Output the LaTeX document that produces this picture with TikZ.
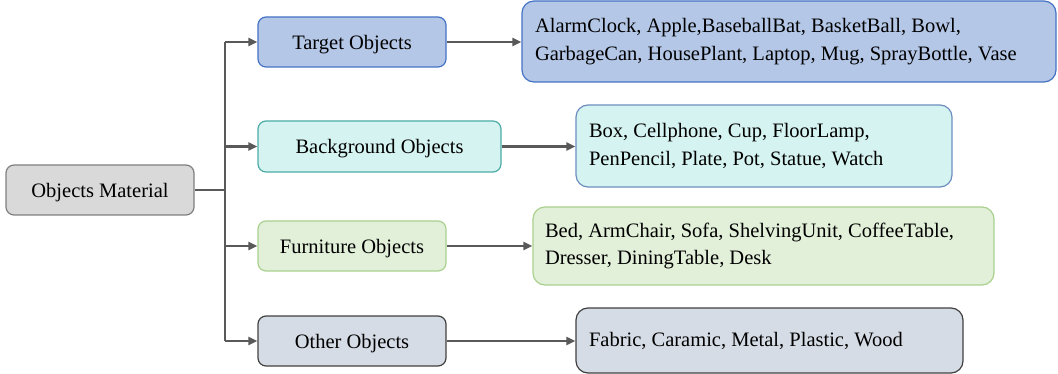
\documentclass[tikz,border=0pt]{standalone}
\usepackage{fontspec}
\setmainfont{Liberation Serif}
\usetikzlibrary{arrows.meta}
\definecolor{rootfill}{HTML}{D9D9D9}
\definecolor{rootdraw}{HTML}{7F7F7F}
\definecolor{tgtfill}{HTML}{B4C7E7}
\definecolor{tgtdraw}{HTML}{4472C4}
\definecolor{bgfill}{HTML}{D5F3F0}
\definecolor{bgdraw}{HTML}{4BACA6}
\definecolor{bglistdraw}{HTML}{6C8EBF}
\definecolor{furfill}{HTML}{E2F0D9}
\definecolor{furdraw}{HTML}{A9D18E}
\definecolor{othfill}{HTML}{D6DCE5}
\definecolor{othdraw}{HTML}{404040}
\definecolor{linkcol}{HTML}{595959}
\tikzset{
  box/.style={rounded corners=8pt, line width=1.2pt, inner sep=0pt, align=center,
    text depth=0pt, font=\fontsize{20.5}{27}\selectfont},
  listbox/.style={rounded corners=12pt, line width=1.2pt, inner sep=0pt,
    font=\fontsize{20.5}{27.5}\selectfont},
  link/.style={draw=linkcol, line width=2.6pt, -{Triangle[length=9pt,width=8pt]}},
  trunk/.style={draw=linkcol, line width=2.6pt},
}
\newcommand{\listtext}[2]{\raisebox{-2pt}{\parbox[c]{#1pt}{\raggedright #2}}}
\begin{document}
\begin{tikzpicture}[x=1pt,y=-1pt]
\useasboundingbox (0,0) rectangle (1058,374);
% root
\node[box, fill=rootfill, draw=rootdraw, minimum width=188pt, minimum height=50pt] (root) at (100,190) {Objects Material};
% categories
\node[box, fill=tgtfill, draw=tgtdraw, minimum width=188pt, minimum height=50pt] (tgt) at (352,42) {Target Objects};
\node[box, fill=bgfill, draw=bgdraw, minimum width=243pt, minimum height=51pt] (bg) at (379.5,146.5) {Background Objects};
\node[box, fill=furfill, draw=furdraw, minimum width=188pt, minimum height=50pt] (fur) at (352,246) {Furniture Objects};
\node[box, fill=othfill, draw=othdraw, minimum width=188pt, minimum height=50pt] (oth) at (352,341) {Other Objects};
% lists
\node[listbox, fill=tgtfill, draw=tgtdraw, minimum width=534pt, minimum height=81pt] (tgtl) at (789,41.5)
  {\listtext{508}{AlarmClock, Apple,BaseballBat, BasketBall, Bowl,\\GarbageCan, HousePlant, Laptop, Mug, SprayBottle, Vase}};
\node[listbox, fill=bgfill, draw=bglistdraw, minimum width=376pt, minimum height=82pt] (bgl) at (764,146)
  {\listtext{350}{Box, Cellphone, Cup, FloorLamp,\\PenPencil, Plate, Pot, Statue, Watch}};
\node[listbox, fill=furfill, draw=furdraw, minimum width=461pt, minimum height=78pt] (furl) at (763.5,246)
  {\listtext{437}{Bed, ArmChair, Sofa, ShelvingUnit, CoffeeTable,\\Dresser, DiningTable, Desk}};
\node[listbox, fill=othfill, draw=othdraw, minimum width=387pt, minimum height=65pt] (othl) at (769.5,340.5)
  {\listtext{361}{Fabric, Caramic, Metal, Plastic, Wood}};
% connectors
\coordinate (jt) at (225,42);
\coordinate (jo) at (225,341);
\coordinate (jr) at (225,190);
\draw[trunk] (root.east) -- (jr);
\draw[trunk] (jt) -- (jo);
\draw[link] (jt) -- (tgt.west);
\draw[link] (225,146.5) -- (bg.west);
\draw[link] (225,246) -- (fur.west);
\draw[link] (jo) -- (oth.west);
\draw[link] (tgt.east) -- (tgtl.west |- tgt.east);
\draw[link] (bg.east) -- (bgl.west |- bg.east);
\draw[link] (fur.east) -- (furl.west |- fur.east);
\draw[link] (oth.east) -- (othl.west |- oth.east);
\end{tikzpicture}
\end{document}
